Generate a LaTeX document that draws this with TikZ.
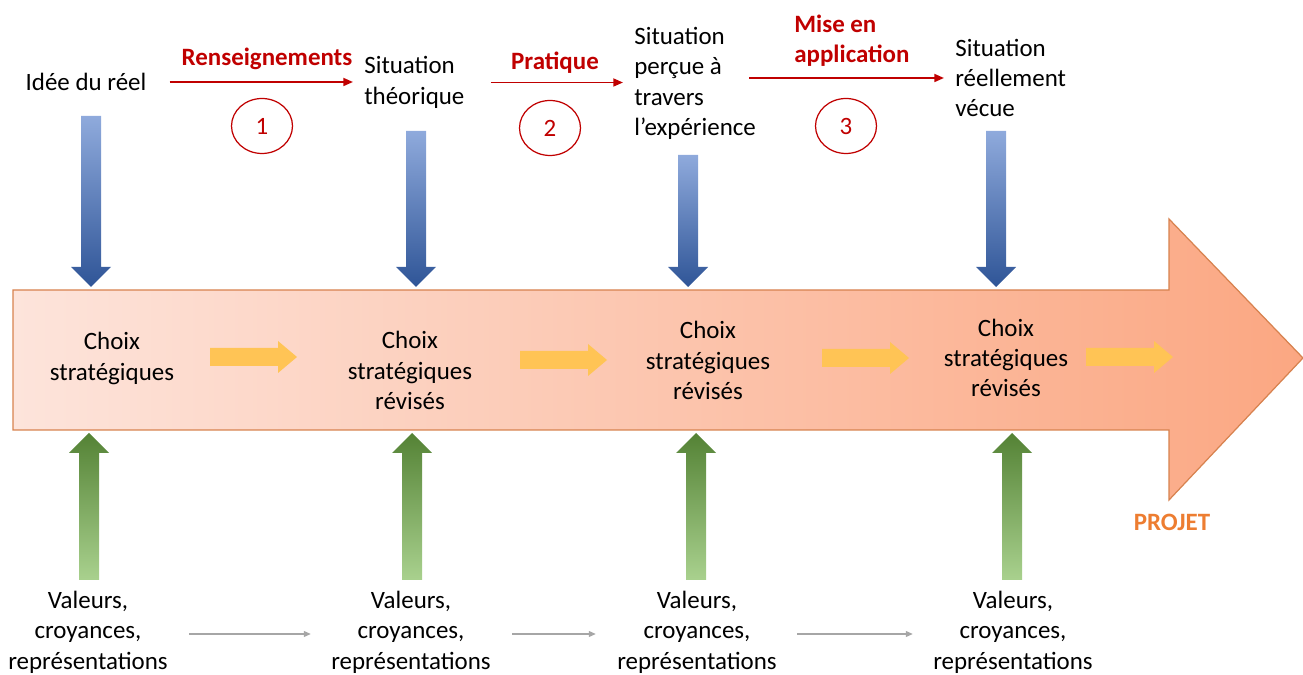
\documentclass[tikz,border=0pt]{standalone}
\usepackage{fontspec}
\setmainfont{Carlito}
\usetikzlibrary{arrows.meta,shapes.geometric}
\definecolor{redlbl}{HTML}{C00000}
\definecolor{blueTop}{HTML}{8FAADC}
\definecolor{blueMid}{HTML}{4472C4}
\definecolor{blueBot}{HTML}{2F5597}
\definecolor{greenTop}{HTML}{548235}
\definecolor{greenMid}{HTML}{70AD47}
\definecolor{greenBot}{HTML}{A9D18E}
\definecolor{pinkL}{HTML}{FDE4DB}
\definecolor{pinkR}{HTML}{FBA782}
\definecolor{arrowEdge}{HTML}{D7824F}
\definecolor{yellowA}{HTML}{FFC455}
\definecolor{projetcol}{HTML}{ED7D31}
\begin{document}
\begin{tikzpicture}[x=0.02cm,y=-0.02cm,
  txt/.style={inner sep=0pt,font=\fontsize{14.2}{17.3}\selectfont,align=center},
  lbl/.style={inner sep=0pt,font=\fontsize{14.2}{17.3}\selectfont\bfseries,text=redlbl,align=left},
  num/.style={ellipse,draw=redlbl,line width=0.7pt,minimum width=1.22cm,minimum height=1.1cm,
    inner sep=0pt,text=redlbl,font=\fontsize{14.2}{17.3}\selectfont},
  redarrow/.style={draw=redlbl,line width=1.1pt,-{Triangle[length=5.5pt,width=4.5pt]}},
  grayarrow/.style={draw=gray!70,line width=1pt,-{Triangle[length=4pt,width=3.2pt]}}]
\useasboundingbox (0,0) rectangle (1303,675);

% big arrow (projet)
\shade[left color=pinkL,right color=pinkR]
  (13,290)--(1169,290)--(1169,219)--(1303,358)--(1169,500)--(1169,430)--(13,430)--cycle;
\draw[arrowEdge,line width=0.7pt]
  (13,290)--(1169,290)--(1169,219)--(1303,358)--(1169,500)--(1169,430)--(13,430)--cycle;
\node[inner sep=0pt,font=\fontsize{14.2}{17.3}\selectfont\bfseries,text=projetcol] (projet) at (1172,522) {PROJET};

% blue arrows
\foreach \x/\t in {91/116,416/131,688/155,996/131}
  \shade[top color=blueTop,middle color=blueMid,bottom color=blueBot]
    (\x-10,\t)--(\x+10,\t)--(\x+10,267)--(\x+20,267)--(\x,287)--(\x-20,267)--(\x-10,267)--cycle;

% green arrows
\foreach \x in {89,412,696,1012}
  \shade[top color=greenTop,middle color=greenMid,bottom color=greenBot]
    (\x,433)--(\x+20,453)--(\x+10,453)--(\x+10,580)--(\x-10,580)--(\x-10,453)--(\x-20,453)--cycle;

% yellow arrows
\foreach \x/\y in {210/357,520/360,822/358,1086/357}
  \fill[yellowA] (\x,\y-9)--(\x+68,\y-9)--(\x+68,\y-16)--(\x+87,\y)--(\x+68,\y+16)--(\x+68,\y+9)--(\x,\y+9)--cycle;

% top row
\node[txt] (idee) at (86,82) {Idée du réel};
\node[txt,anchor=west,align=left] (theo) at (364,82.5) {Situation\\théorique};
\node[txt,anchor=west,align=left] (percue) at (634,83.5) {Situation\\perçue à\\travers\\l’expérience};
\node[txt,anchor=west,align=left] (vecue) at (955,78) {Situation\\réellement\\vécue};

\node[lbl] (rens) at (267,59) {Renseignements};
\node[lbl] (prat) at (555,63) {Pratique};
\node[lbl,anchor=west] (mise) at (794,40.5) {Mise en\\application};

\node[num] (n1) at (262,126) {1};
\node[num] (n2) at (550,128) {2};
\node[num] (n3) at (846,126) {3};

\draw[redarrow,shorten <=0.46cm,shorten >=0.22cm] (idee.east) -- (idee.east -| theo.west);
\draw[redarrow,shorten <=0.52cm,shorten >=0.22cm] (theo.east) -- (theo.east -| percue.west);
\draw[redarrow,shorten >=0.22cm] ([xshift=-0.14cm]percue.east |- vecue.west) -- (vecue.west);

% choices
\node[txt] (ch1) at (112,358.5) {Choix\\stratégiques};
\node[txt] (ch2) at (410,370.5) {Choix\\stratégiques\\révisés};
\node[txt] (ch3) at (708,360.5) {Choix\\stratégiques\\révisés};
\node[txt] (ch4) at (1006,358) {Choix\\stratégiques\\révisés};

% values
\node[txt] (val1) at (88,632) {Valeurs,\\croyances,\\représentations};
\node[txt] (val2) at (411,632) {Valeurs,\\croyances,\\représentations};
\node[txt] (val3) at (697,632) {Valeurs,\\croyances,\\représentations};
\node[txt] (val4) at (1013,632) {Valeurs,\\croyances,\\représentations};

\draw[grayarrow,shorten <=0.42cm,shorten >=0.4cm] ([yshift=-0.04cm]val1.east) -- ([yshift=-0.04cm]val2.west);
\draw[grayarrow,shorten <=0.42cm,shorten >=0.42cm] ([yshift=-0.04cm]val2.east) -- ([yshift=-0.04cm]val3.west);
\draw[grayarrow,shorten <=0.4cm,shorten >=0.4cm] ([yshift=-0.04cm]val3.east) -- ([yshift=-0.04cm]val4.west);
\end{tikzpicture}
\end{document}
